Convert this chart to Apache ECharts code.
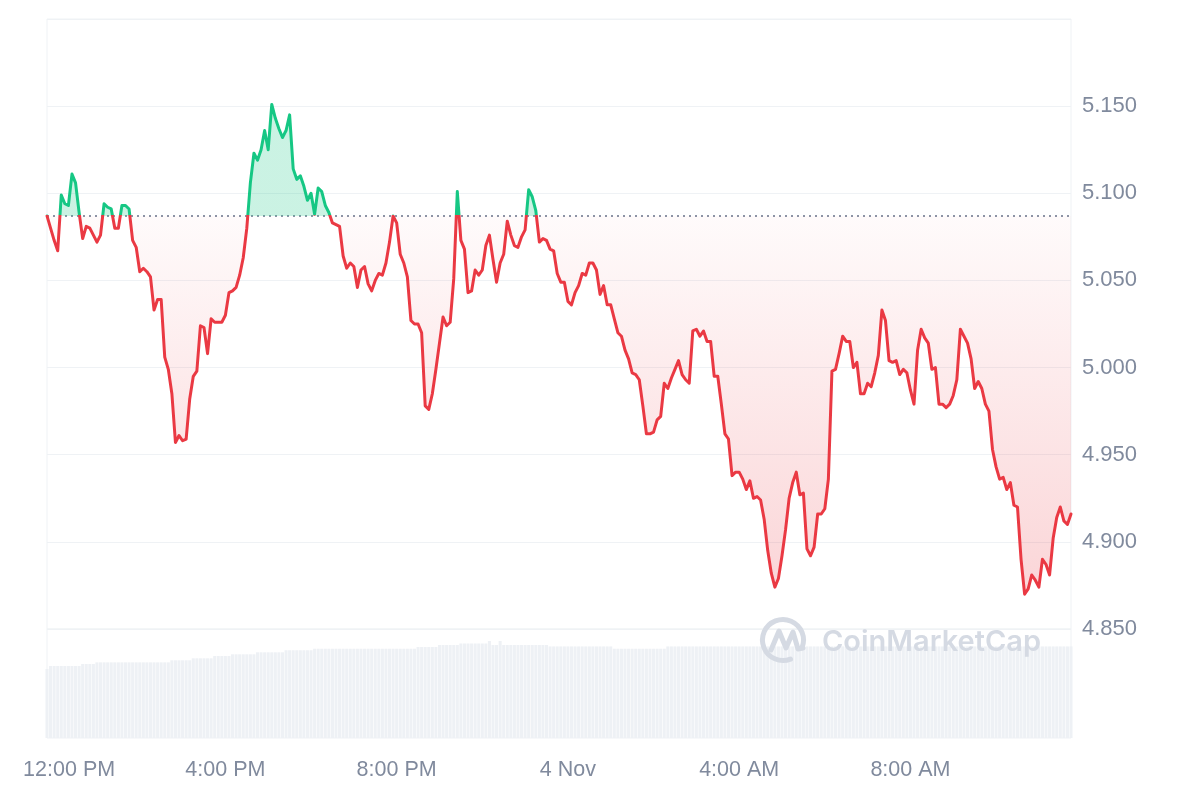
<!DOCTYPE html>
<html>
<head>
<meta charset="utf-8">
<script src="https://cdn.jsdelivr.net/npm/echarts@6/dist/echarts.min.js"></script>
<style>
html,body{margin:0;padding:0;background:#ffffff;}
#chart{width:1200px;height:800px;}
</style>
</head>
<body>
<div id="chart"></div>
<script>
// ---- categories: 5-minute steps starting 11:50 (3 Nov) ----
const startTime = '11:50';
const stepMinutes = 5;

// ---- price series (one value per 5 minutes) ----
const prices = [
  5.087, 5.080, 5.073, 5.067, 5.099, 5.094, 5.093, 5.111, 5.106, 5.089, 5.074, 5.081,
  5.080, 5.076, 5.072, 5.076, 5.094, 5.092, 5.091, 5.080, 5.080, 5.093, 5.093, 5.091,
  5.073, 5.069, 5.055, 5.057, 5.055, 5.052, 5.033, 5.039, 5.039, 5.006, 4.999, 4.985,
  4.957, 4.961, 4.958, 4.959, 4.982, 4.995, 4.998, 5.024, 5.023, 5.008, 5.028, 5.026,
  5.026, 5.026, 5.030, 5.043, 5.044, 5.046, 5.053, 5.063, 5.080, 5.106, 5.123, 5.119,
  5.125, 5.136, 5.125, 5.151, 5.143, 5.137, 5.132, 5.136, 5.145, 5.114, 5.108, 5.110,
  5.104, 5.096, 5.100, 5.088, 5.103, 5.101, 5.093, 5.089, 5.083, 5.082, 5.081, 5.064,
  5.057, 5.060, 5.058, 5.046, 5.056, 5.058, 5.048, 5.044, 5.050, 5.054, 5.053, 5.060,
  5.072, 5.087, 5.083, 5.065, 5.060, 5.052, 5.027, 5.025, 5.025, 5.020, 4.978, 4.976,
  4.985, 4.999, 5.014, 5.029, 5.024, 5.026, 5.051, 5.101, 5.073, 5.068, 5.043, 5.044,
  5.056, 5.053, 5.056, 5.070, 5.076, 5.062, 5.049, 5.060, 5.065, 5.084, 5.076, 5.070,
  5.069, 5.075, 5.079, 5.102, 5.098, 5.090, 5.072, 5.074, 5.073, 5.068, 5.067, 5.054,
  5.049, 5.049, 5.038, 5.036, 5.043, 5.047, 5.054, 5.053, 5.060, 5.060, 5.056, 5.042,
  5.047, 5.036, 5.036, 5.028, 5.020, 5.018, 5.010, 5.005, 4.997, 4.996, 4.993, 4.978,
  4.962, 4.962, 4.963, 4.970, 4.972, 4.991, 4.988, 4.994, 4.999, 5.004, 4.996, 4.993,
  4.991, 5.021, 5.022, 5.018, 5.021, 5.015, 5.015, 4.995, 4.995, 4.979, 4.962, 4.959,
  4.938, 4.940, 4.940, 4.936, 4.930, 4.935, 4.925, 4.926, 4.924, 4.913, 4.895, 4.882,
  4.874, 4.879, 4.892, 4.907, 4.925, 4.934, 4.940, 4.927, 4.928, 4.896, 4.892, 4.897,
  4.916, 4.916, 4.919, 4.936, 4.998, 4.999, 5.008, 5.018, 5.015, 5.015, 5.000, 5.003,
  4.985, 4.985, 4.991, 4.989, 4.997, 5.007, 5.033, 5.027, 5.004, 5.003, 5.004, 4.996,
  4.999, 4.997, 4.987, 4.979, 5.010, 5.022, 5.017, 5.014, 4.999, 5.000, 4.979, 4.979,
  4.977, 4.979, 4.984, 4.993, 5.022, 5.018, 5.014, 5.005, 4.988, 4.992, 4.988, 4.979,
  4.975, 4.953, 4.943, 4.936, 4.937, 4.930, 4.934, 4.921, 4.920, 4.890, 4.870, 4.873,
  4.881, 4.878, 4.874, 4.890, 4.887, 4.881, 4.902, 4.914, 4.920, 4.912, 4.910, 4.916
];

// ---- volume series (relative units, one per 5 minutes) ----
const volumes = [
  63.3, 66.1, 66.1, 66.1, 66.1, 66.1, 66.1, 66.1, 66.1, 66.1, 67.9, 67.9,
  67.9, 67.9, 69.4, 69.4, 69.4, 69.4, 69.4, 69.4, 69.4, 69.4, 69.4, 69.4,
  69.4, 69.4, 69.4, 69.4, 69.4, 69.4, 69.4, 69.4, 69.4, 69.4, 69.4, 71.3,
  71.3, 71.3, 71.3, 71.3, 71.3, 73.1, 73.1, 73.1, 73.1, 73.1, 73.1, 75.2,
  75.2, 75.2, 75.2, 75.2, 76.8, 76.8, 76.8, 76.8, 76.8, 76.8, 76.8, 78.6,
  78.6, 78.6, 78.6, 78.6, 78.6, 78.6, 78.6, 80.5, 80.5, 80.5, 80.5, 80.5,
  80.5, 80.5, 80.5, 81.9, 81.9, 81.9, 81.9, 81.9, 81.9, 81.9, 81.9, 81.9,
  81.9, 81.9, 81.9, 81.9, 81.9, 81.9, 81.9, 81.9, 81.9, 81.9, 81.9, 81.9,
  81.9, 81.9, 81.9, 81.9, 81.9, 81.9, 81.9, 81.9, 83.5, 83.5, 83.5, 83.5,
  83.5, 83.5, 85.3, 85.3, 85.3, 85.3, 85.3, 85.3, 86.7, 86.7, 86.7, 86.7,
  86.7, 86.7, 86.7, 86.7, 89.0, 85.3, 85.3, 89.0, 85.3, 85.3, 85.3, 85.3,
  85.3, 85.3, 85.3, 85.3, 85.3, 85.3, 85.3, 85.3, 85.3, 84.0, 84.0, 84.0,
  84.0, 84.0, 84.0, 84.0, 84.0, 84.0, 84.0, 84.0, 84.0, 84.0, 84.0, 84.0,
  84.0, 84.0, 84.0, 81.9, 81.9, 81.9, 81.9, 81.9, 81.9, 81.9, 81.9, 81.9,
  81.9, 81.9, 81.9, 81.9, 81.9, 81.9, 84.0, 84.0, 84.0, 84.0, 84.0, 84.0,
  84.0, 84.0, 84.0, 84.0, 84.0, 84.0, 84.0, 84.0, 84.0, 84.0, 84.0, 84.0,
  84.0, 84.0, 84.0, 84.0, 84.0, 84.0, 84.0, 84.0, 84.0, 84.0, 84.0, 84.0,
  84.0, 84.0, 84.0, 84.0, 84.0, 84.0, 84.0, 84.0, 84.0, 84.0, 84.0, 84.0,
  84.0, 84.0, 84.0, 84.0, 84.0, 84.0, 84.0, 84.0, 84.0, 84.0, 84.0, 84.0,
  84.0, 84.0, 84.0, 84.0, 84.0, 84.0, 84.0, 84.0, 84.0, 84.0, 84.0, 84.0,
  84.0, 84.0, 84.0, 84.0, 84.0, 84.0, 84.0, 84.0, 84.0, 84.0, 84.0, 84.0,
  84.0, 84.0, 84.0, 84.0, 84.0, 84.0, 84.0, 84.0, 84.0, 84.0, 84.0, 84.0,
  84.0, 84.0, 84.0, 84.0, 84.0, 84.0, 84.0, 84.0, 84.0, 84.0, 84.0, 84.0,
  84.0, 84.0, 84.0, 84.0, 84.0, 84.0, 84.0, 84.0, 84.0, 84.0, 84.0, 84.0
];

// ---- x tick labels ----
const tickTimes  = ['12:00', '16:00', '20:00', '00:00', '04:00', '08:00'];
const tickLabels = ['12:00 PM', '4:00 PM', '8:00 PM', '4 Nov', '4:00 AM', '8:00 AM'];

// ---- price axis ----
const priceMin = 4.85, priceMax = 5.20, priceStep = 0.05;

// build category list
const times = [];
{
  const [h0, m0] = startTime.split(':').map(Number);
  for (let i = 0; i < prices.length; i++) {
    const t = (h0 * 60 + m0 + i * stepMinutes) % 1440;
    const hh = String(Math.floor(t / 60)).padStart(2, '0');
    const mm = String(t % 60).padStart(2, '0');
    times.push(hh + ':' + mm);
  }
}

const GREEN = '#16c784';
const RED = '#ea3943';
const TXT = '#808a9d';
const GRIDC = '#eff2f5';
const FONT = '"Liberation Sans", Arial, Helvetica, sans-serif';

const base = prices[0];
const pMax = Math.max(...prices);
const pMin = Math.min(...prices);
const cut = (pMax - base) / (pMax - pMin);

const lineGradient = {
  type: 'linear', x: 0, y: 0, x2: 0, y2: 1,
  colorStops: [
    {offset: 0, color: GREEN},
    {offset: cut, color: GREEN},
    {offset: cut, color: RED},
    {offset: 1, color: RED}
  ]
};
const areaGradient = {
  type: 'linear', x: 0, y: 0, x2: 0, y2: 1,
  colorStops: [
    {offset: 0, color: 'rgba(22,199,132,0.32)'},
    {offset: cut, color: 'rgba(22,199,132,0.32)'},
    {offset: cut, color: 'rgba(234,57,67,0.03)'},
    {offset: 1, color: 'rgba(234,57,67,0.30)'}
  ]
};

const chart = echarts.init(document.getElementById('chart'), null, {renderer: 'canvas'});

const option = {
  animation: false,
  backgroundColor: '#ffffff',
  grid: [
    {left: 47, right: 129, top: 19, height: 610, show: true, borderColor: GRIDC, borderWidth: 1, containLabel: false},
    {left: 47, right: 129, top: 629, height: 109, show: true, borderColor: GRIDC, borderWidth: 1, containLabel: false}
  ],
  xAxis: [
    {type: 'category', gridIndex: 0, data: times, boundaryGap: false, show: false},
    {
      type: 'category', gridIndex: 1, data: times, boundaryGap: false,
      axisLine: {show: false}, axisTick: {show: false}, splitLine: {show: false},
      axisLabel: {
        interval: (idx, val) => tickTimes.includes(val),
        formatter: (val) => {
          const k = tickTimes.indexOf(val);
          if (k < 0) return '';
          return k === 0 ? '{pad|}{t|' + tickLabels[k] + '}' : '{t|' + tickLabels[k] + '}';
        },
        margin: 21,
        rich: {
          pad: {width: 30, height: 10},
          t: {color: TXT, fontSize: 21.5, fontFamily: FONT}
        },
        color: TXT, fontSize: 21.5, fontFamily: FONT
      }
    }
  ],
  yAxis: [
    {
      type: 'value', gridIndex: 0, position: 'right',
      min: priceMin, max: priceMax, interval: priceStep,
      axisLine: {show: false}, axisTick: {show: false},
      splitLine: {show: true, lineStyle: {color: GRIDC, width: 1}},
      axisLabel: {
        showMaxLabel: false,
        formatter: (v) => v.toFixed(3),
        color: TXT, fontSize: 22, fontFamily: FONT, margin: 11,
        padding: [5, 0, 0, 0]
      }
    },
    {type: 'value', gridIndex: 1, min: 0, max: 100, show: false, splitLine: {show: false}}
  ],
  series: [
    {
      name: 'Price', type: 'line', xAxisIndex: 0, yAxisIndex: 0,
      data: prices, showSymbol: false, symbol: 'none', z: 5,
      lineStyle: {width: 3, join: 'round', cap: 'round', color: lineGradient},
      areaStyle: {origin: base, color: areaGradient},
      markLine: {
        silent: true, symbol: ['none', 'none'], label: {show: false},
        precision: 6,
        lineStyle: {color: '#8c94a6', type: [2, 4], width: 2},
        emphasis: {disabled: true},
        data: [{yAxis: base}]
      }
    },
    {
      name: 'Volume', type: 'bar', xAxisIndex: 1, yAxisIndex: 1,
      data: volumes, barWidth: '85%', z: 1,
      itemStyle: {color: '#eef1f5'},
      emphasis: {disabled: true}
    }
  ],
  graphic: [
    {
      type: 'arc', z: 50, silent: true,
      shape: {cx: 783, cy: 640, r: 20.5, startAngle: Math.PI * 0.38, endAngle: Math.PI * 2.12, clockwise: true},
      style: {stroke: '#d5dae3', lineWidth: 5, fill: null, lineCap: 'round'}
    },
    {
      type: 'polyline', z: 50, silent: true,
      shape: {points: [[771, 650], [779, 631], [786, 648], [793, 632], [798, 649], [803, 648]]},
      style: {stroke: '#d5dae3', lineWidth: 5, fill: null, lineJoin: 'round', lineCap: 'round'}
    },
    {
      type: 'text', z: 50, silent: true, x: 822, y: 642,
      style: {text: 'CoinMarketCap', fill: '#d5dae3', fontSize: 29, fontWeight: 600,
              fontFamily: 'Inter, "Noto Sans", sans-serif', verticalAlign: 'middle', align: 'left'}
    }
  ]
};

chart.setOption(option);
</script>
</body>
</html>
